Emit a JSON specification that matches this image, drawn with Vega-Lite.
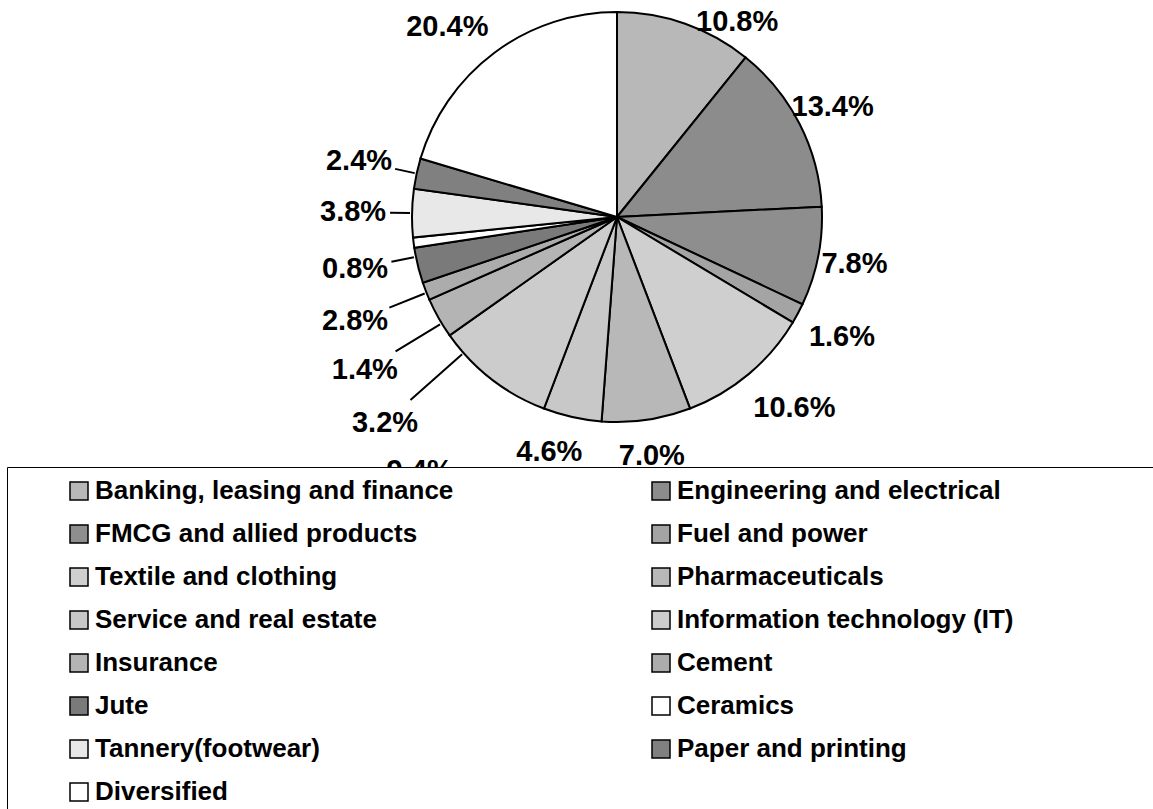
{
  "$schema": "https://vega.github.io/schema/vega-lite/v6.json",
  "width": 1072,
  "height": 410,
  "padding": {"left": 81, "top": 12, "right": 0, "bottom": 387},
  "autosize": {"type": "none"},
  "background": "white",
  "config": {
    "view": {"stroke": null},
    "font": "Liberation Sans",
    "text": {"font": "Liberation Sans", "fontWeight": "bold", "fontSize": 29, "color": "black", "align": "center", "baseline": "middle"}
  },
  "data": {
    "values": [
      {"n": 1, "sector": "Banking, leasing and finance", "share": 0.108},
      {"n": 2, "sector": "Engineering and electrical", "share": 0.134},
      {"n": 3, "sector": "FMCG and allied products", "share": 0.078},
      {"n": 4, "sector": "Fuel and power", "share": 0.016},
      {"n": 5, "sector": "Textile and clothing", "share": 0.106},
      {"n": 6, "sector": "Pharmaceuticals", "share": 0.070},
      {"n": 7, "sector": "Service and real estate", "share": 0.046},
      {"n": 8, "sector": "Information technology (IT)", "share": 0.094},
      {"n": 9, "sector": "Insurance", "share": 0.032},
      {"n": 10, "sector": "Cement", "share": 0.014},
      {"n": 11, "sector": "Jute", "share": 0.028},
      {"n": 12, "sector": "Ceramics", "share": 0.008},
      {"n": 13, "sector": "Tannery(footwear)", "share": 0.038},
      {"n": 14, "sector": "Paper and printing", "share": 0.024},
      {"n": 15, "sector": "Diversified", "share": 0.204}
    ]
  },
  "encoding": {
    "theta": {"field": "share", "type": "quantitative", "stack": true},
    "order": {"field": "n", "type": "quantitative"}
  },
  "layer": [
    {
      "mark": {"type": "arc", "stroke": "black", "strokeWidth": 2},
      "encoding": {
        "fill": {
          "field": "sector",
          "type": "nominal",
          "sort": null,
          "scale": {
            "domain": ["Banking, leasing and finance", "Engineering and electrical", "FMCG and allied products", "Fuel and power", "Textile and clothing", "Pharmaceuticals", "Service and real estate", "Information technology (IT)", "Insurance", "Cement", "Jute", "Ceramics", "Tannery(footwear)", "Paper and printing", "Diversified"],
            "range": ["#b8b8b8", "#8c8c8c", "#8e8e8e", "#a4a4a4", "#cfcfcf", "#b8b8b8", "#c8c8c8", "#cccccc", "#b4b4b4", "#acacac", "#7a7a7a", "#ffffff", "#e8e8e8", "#808080", "#ffffff"]
          },
          "legend": {
            "orient": "none",
            "legendX": -74,
            "legendY": 455,
            "direction": "horizontal",
            "columns": 2,
            "title": " ",
            "titleOrient": "left",
            "titleFontSize": 1,
            "titlePadding": 48,
            "fillColor": "white",
            "strokeColor": "black",
            "padding": 11,
            "symbolType": "square",
            "symbolSize": 324,
            "symbolStrokeColor": "black",
            "symbolStrokeWidth": 1.5,
            "symbolOpacity": 1,
            "labelFont": "Liberation Sans",
            "labelFontWeight": "bold",
            "labelFontSize": 26,
            "labelColor": "black",
            "labelOffset": 3,
            "labelLimit": 2000,
            "labelExpr": "datum.label + '\u00a0\u00a0\u00a0\u00a0\u00a0\u00a0\u00a0\u00a0\u00a0\u00a0\u00a0\u00a0\u00a0\u00a0\u00a0\u00a0\u00a0\u00a0\u200b'",
            "rowPadding": 17,
            "columnPadding": 64,
            "zindex": 1
          }
        }
      }
    },
    {
      "mark": {"type": "arc", "filled": false, "stroke": "black", "strokeWidth": 2, "innerRadius": 207, "outerRadius": 227, "padAngle": 0.5},
      "encoding": {
        "strokeOpacity": {"condition": {"test": "indexof(['Tannery(footwear)','Paper and printing'], datum.sector) >= 0", "value": 1}, "value": 0}
      }
    },
    {
      "mark": {"type": "arc", "filled": false, "stroke": "black", "strokeWidth": 2, "innerRadius": 207, "outerRadius": 230, "padAngle": 0.5, "thetaOffset": -0.07},
      "encoding": {
        "strokeOpacity": {"condition": {"test": "datum.sector === 'Ceramics'", "value": 1}, "value": 0}
      }
    },
    {
      "mark": {"type": "arc", "filled": false, "stroke": "black", "strokeWidth": 2, "innerRadius": 207, "outerRadius": 245, "padAngle": 0.5, "thetaOffset": -0.14},
      "encoding": {
        "strokeOpacity": {"condition": {"test": "datum.sector === 'Jute'", "value": 1}, "value": 0}
      }
    },
    {
      "mark": {"type": "arc", "filled": false, "stroke": "black", "strokeWidth": 2, "innerRadius": 207, "outerRadius": 259, "padAngle": 0.5, "thetaOffset": -0.175},
      "encoding": {
        "strokeOpacity": {"condition": {"test": "datum.sector === 'Cement'", "value": 1}, "value": 0}
      }
    },
    {
      "mark": {"type": "arc", "filled": false, "stroke": "black", "strokeWidth": 2, "innerRadius": 207, "outerRadius": 276, "padAngle": 0.5, "thetaOffset": -0.21},
      "encoding": {
        "strokeOpacity": {"condition": {"test": "datum.sector === 'Insurance'", "value": 1}, "value": 0}
      }
    },
    {
      "mark": {"type": "text", "radius": 242},
      "encoding": {
        "text": {"condition": {"test": "indexof(['Engineering and electrical','FMCG and allied products','Pharmaceuticals'], datum.sector) >= 0", "field": "share", "format": ".1%"}, "value": ""}
      }
    },
    {
      "mark": {"type": "text", "radius": 245, "thetaOffset": 0.06},
      "encoding": {
        "text": {"condition": {"test": "datum.sector === 'Service and real estate'", "field": "share", "format": ".1%"}, "value": ""}
      }
    },
    {
      "mark": {"type": "text", "radius": 255},
      "encoding": {
        "text": {"condition": {"test": "datum.sector === 'Fuel and power'", "field": "share", "format": ".1%"}, "value": ""}
      }
    },
    {
      "mark": {"type": "text", "radius": 261, "thetaOffset": -0.05},
      "encoding": {
        "text": {"condition": {"test": "datum.sector === 'Textile and clothing'", "field": "share", "format": ".1%"}, "value": ""}
      }
    },
    {
      "mark": {"type": "text", "radius": 229, "thetaOffset": 0.213},
      "encoding": {
        "text": {"condition": {"test": "datum.sector === 'Banking, leasing and finance'", "field": "share", "format": ".1%"}, "value": ""}
      }
    },
    {
      "mark": {"type": "text", "radius": 255, "thetaOffset": -0.087},
      "encoding": {
        "text": {"condition": {"test": "datum.sector === 'Diversified'", "field": "share", "format": ".1%"}, "value": ""}
      }
    },
    {
      "mark": {"type": "text", "radius": 310, "thetaOffset": -0.21},
      "encoding": {
        "text": {"condition": {"test": "datum.sector === 'Insurance'", "field": "share", "format": ".1%"}, "value": ""}
      }
    },
    {
      "mark": {"type": "text", "radius": 295, "thetaOffset": -0.175},
      "encoding": {
        "text": {"condition": {"test": "datum.sector === 'Cement'", "field": "share", "format": ".1%"}, "value": ""}
      }
    },
    {
      "mark": {"type": "text", "radius": 282, "thetaOffset": -0.14},
      "encoding": {
        "text": {"condition": {"test": "datum.sector === 'Jute'", "field": "share", "format": ".1%"}, "value": ""}
      }
    },
    {
      "mark": {"type": "text", "radius": 267, "thetaOffset": -0.07},
      "encoding": {
        "text": {"condition": {"test": "datum.sector === 'Ceramics'", "field": "share", "format": ".1%"}, "value": ""}
      }
    },
    {
      "mark": {"type": "text", "radius": 264},
      "encoding": {
        "text": {"condition": {"test": "indexof(['Tannery(footwear)','Paper and printing'], datum.sector) >= 0", "field": "share", "format": ".1%"}, "value": ""}
      }
    },
    {
      "mark": {"type": "text", "radius": 322},
      "encoding": {
        "text": {"condition": {"test": "datum.sector === 'Information technology (IT)'", "field": "share", "format": ".1%"}, "value": ""}
      }
    }
  ]
}
